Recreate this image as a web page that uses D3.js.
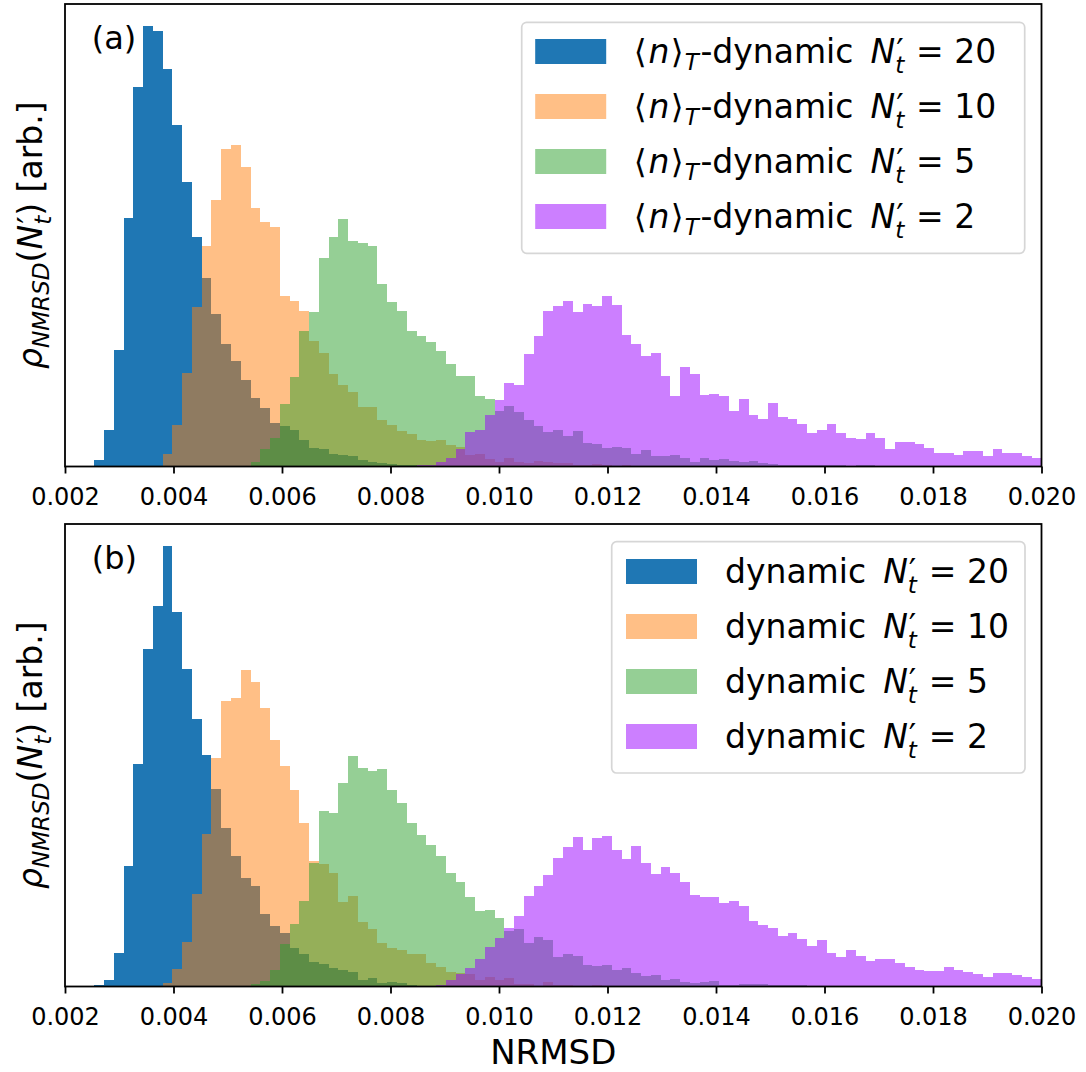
<!DOCTYPE html>
<html>
<head>
<meta charset="utf-8">
<script src="https://cdn.jsdelivr.net/npm/d3@7"></script>
<style>
  body { margin: 0; background: #fff; }
  svg { display: block; }
  text { font-family: "DejaVu Sans", sans-serif; white-space: pre; fill: #000; }
</style>
</head>
<body>
<svg id="chart" width="1086" height="1072"></svg>
<script>
// Shared histogram binning: 100 equal bins over NRMSD 0.002 .. 0.020
const binLo = 0.002, binHi = 0.020, nBins = 100;
const xTicks = [0.002, 0.004, 0.006, 0.008, 0.010, 0.012, 0.014, 0.016, 0.018, 0.020];
const xTickLabels = ["0.002", "0.004", "0.006", "0.008", "0.010", "0.012", "0.014", "0.016", "0.018", "0.020"];
const ntValues = ["20", "10", "5", "2"];
const seriesColors = ["#1f77b4", "#ff7f0e", "#2ca02c", "#9900ff"];
const seriesAlpha = [1, 0.5, 0.5, 0.5];

const zeros = n => Array(n).fill(0);

// Panel (a): <n>_T-dynamic, density per bin [arb.]
const avgDyn20 = [0, 0, 0, 6.5, 36.5, 116.5, 248.5, 379.5, 440.5, 435.5,
  397.5, 341.5, 284.5, 229.5, 188.5, 152.5, 122.5, 105.5, 86.5, 68.5,
  58.5, 43.5, 40.5, 36.5, 26.5, 18.5, 17.5, 12.5, 11.5, 10.5,
  6.5, 4.5, 3.5, 2.5, 1.5, 1.5, 1, 1, 0.5, 0.5];
const avgDyn10 = [...zeros(10),
  12.5, 41.5, 93.5, 159.5, 220.5, 266.5, 317.5, 321.5, 299.5, 258.5,
  244.5, 239.5, 170.5, 165.5, 155.5, 125.5, 113.5, 92.5, 81.5, 74.5,
  59.5, 59.5, 46.5, 41.5, 35.5, 32.5, 26.5, 25.5, 26.5, 21.5,
  19.5, 11.5, 12.5, 7.5, 4.5, 8.5, 4.5, 3.5, 5.5, 4.5,
  3.5, 3.5, 1.5, 1.5, 2.5, 1.5, 0.5, 1.5, 0.5, 0.5, 0.5];
const avgDyn5 = [...zeros(19), 4.5,
  17.5, 28.5, 62.5, 89.5, 135.5, 154.5, 208.5, 229.5, 247.5, 225.5,
  223.5, 220.5, 182.5, 164.5, 155.5, 135.5, 130.5, 124.5, 115.5, 102.5,
  90.5, 90.5, 70.5, 67.5, 55.5, 60.5, 54.5, 46.5, 40.5, 34.5,
  36.5, 30.5, 35.5, 23.5, 22.5, 18.5, 19.5, 18.5, 12.5, 16.5,
  10.5, 10.5, 11.5, 8.5, 4.5, 8.5, 6.5, 7.5, 5.5, 4.5,
  5.5, 3.5, 2.5, 1.5, 1.5, 1.5, 1.5, 1.5, 1.5, 1.5,
  0.5, 1.5, 1.5, 0.5, 0.5, 0.5];
const avgDyn2 = [...zeros(36), 1.5, 1.5, 4.5, 8.5,
  17.5, 34.5, 36.5, 51.5, 66.5, 83.5, 81.5, 112.5, 130.5, 155.5,
  160.5, 165.5, 154.5, 162.5, 160.5, 170.5, 161.5, 131.5, 122.5, 110.5,
  113.5, 90.5, 70.5, 99.5, 92.5, 71.5, 72.5, 70.5, 55.5, 67.5,
  51.5, 47.5, 63.5, 49.5, 47.5, 42.5, 33.5, 36.5, 42.5, 33.5,
  28.5, 27.5, 33.5, 28.5, 17.5, 24.5, 24.5, 22.5, 18.5, 13.5,
  13.5, 11.5, 15.5, 15.5, 10.5, 17.5, 13.5, 13.5, 10.5, 8.5];

// Panel (b): dynamic, density per bin [arb.]
const dyn20 = [0, 0, 0, 1.5, 6.5, 33.5, 120.5, 222.5, 337.5, 380.5,
  440.5, 374.5, 317.5, 267.5, 231.5, 197.5, 158.5, 130.5, 108.5, 100.5,
  72.5, 60.5, 53.5, 38.5, 32.5, 24.5, 22.5, 18.5, 16.5, 14.5,
  6.5, 8.5, 3.5, 4.5, 3.5, 2, 1, 1, 0.5];
const dyn10 = [...zeros(10),
  4, 17.5, 44.5, 92.5, 152.5, 228.5, 285.5, 288.5, 316.5, 304.5,
  278.5, 246.5, 220.5, 196.5, 163.5, 125.5, 122.5, 113.5, 84.5, 90.5,
  64.5, 57.5, 43.5, 38.5, 36.5, 32.5, 32.5, 23.5, 19.5, 14.5,
  13.5, 12.5, 6.5, 9.5, 6.5, 8.5, 2.5, 2.5, 0.5, 4.5,
  1.5, 1.5, 0.5, 0.5, 1.5, 0.5];
const dyn5 = [...zeros(19), 2.5,
  5.5, 16.5, 42.5, 62.5, 85.5, 123.5, 175.5, 173.5, 203.5, 230.5,
  218.5, 215.5, 217.5, 196.5, 183.5, 163.5, 151.5, 141.5, 130.5, 113.5,
  104.5, 89.5, 75.5, 76.5, 68.5, 55.5, 57.5, 43.5, 49.5, 46.5,
  29.5, 32.5, 30.5, 21.5, 20.5, 21.5, 16.5, 18.5, 13.5, 10.5,
  11.5, 6.5, 7.5, 4.5, 3.5, 4.5, 5.5, 1.5, 1.5, 2.5,
  2.5, 2.5, 1.5, 1.5, 1.5, 1.5, 0.5, 0.5];
const dyn2 = [...zeros(37), 0.5, 1.5, 6.5,
  12.5, 18.5, 27.5, 39.5, 48.5, 58.5, 70.5, 90.5, 100.5, 111.5,
  128.5, 139.5, 149.5, 136.5, 148.5, 150.5, 136.5, 127.5, 140.5, 123.5,
  112.5, 119.5, 113.5, 104.5, 91.5, 89.5, 89.5, 83.5, 85.5, 80.5,
  65.5, 61.5, 58.5, 50.5, 53.5, 47.5, 40.5, 46.5, 33.5, 29.5,
  36.5, 30.5, 25.5, 27.5, 27.5, 23.5, 19.5, 16.5, 15.5, 15.5,
  19.5, 16.5, 14.5, 12.5, 9.5, 13.5, 13.5, 11.5, 9.5, 7.5];

const svg = d3.select("#chart");
const edges = d3.range(nBins + 1).map(i => binLo + i * (binHi - binLo) / nBins);
const x = d3.scaleLinear().domain([binLo, binHi]).range([65, 1041.5]);

const FS_TICK = 24, FS_LABEL = 33, FS_LEG = 33, FS_TAG = 32;

function textWidth(str, fs, italic) {
  const t = svg.append("text").attr("font-size", fs).attr("font-style", italic ? "oblique" : null).text(str);
  const w = t.node().getComputedTextLength();
  t.remove();
  return w;
}

// N'_t written math-style: italic N, prime above, italic subscript t below;
// returns the horizontal advance still owed after the subscript
function primeSub(t, fs, lead) {
  const sub = 0.7 * fs;
  const pw = textWidth("\u2032", fs, false) + 1;
  const tw = textWidth("t", sub, true);
  t.append("tspan").attr("font-style", "oblique").attr("dx", lead).text("N");
  t.append("tspan").attr("font-size", fs).attr("dx", 1).text("\u2032");
  t.append("tspan").attr("font-style", "oblique").attr("font-size", sub)
    .attr("dx", -pw).attr("dy", 0.28 * fs).text("t");
  return Math.max(0, pw - tw);
}

// legend label: <n>_T-dynamic N'_t = value  (or without the <n>_T prefix)
function legendText(t, withAvg, nt, fs) {
  const sub = 0.7 * fs;
  if (withAvg) {
    t.append("tspan").text("\u27E8");
    t.append("tspan").attr("font-style", "oblique").attr("dx", 0.06 * fs).text("n");
    t.append("tspan").attr("dx", 0.04 * fs).text("\u27E9");
    t.append("tspan").attr("font-style", "oblique").attr("font-size", sub).attr("dx", 0.03 * fs).attr("dy", 0.19 * fs).text("T");
    t.append("tspan").attr("dx", 0.05 * fs).attr("dy", -0.19 * fs).text("-dynamic ");
  } else {
    t.append("tspan").text("dynamic ");
  }
  const owed = primeSub(t, fs, 0.2 * fs);
  t.append("tspan").attr("dx", owed + 0.36 * fs).attr("dy", -0.28 * fs).text("=");
  t.append("tspan").attr("dx", 0.32 * fs).text(nt);
}

const panels = [
  { tag: "(a)", top: 4, bottom: 466.5, series: [avgDyn20, avgDyn10, avgDyn5, avgDyn2], withAvg: true,
    legend: { x: 521.7, y: 22.3, w: 503, h: 231, row: 55, first: 29.2, px: 13.5, tx: 112 } },
  { tag: "(b)", top: 524, bottom: 986.5, series: [dyn20, dyn10, dyn5, dyn2], withAvg: false,
    legend: { x: 611.7, y: 541.7, w: 413.3, h: 231.3, row: 55, first: 29.8, px: 14.3, tx: 113.3 } }
];

panels.forEach(p => {
  const g = svg.append("g");
  const yMax = d3.max(p.series, s => d3.max(s)) * 1.05;
  const y = d3.scaleLinear().domain([0, yMax]).range([p.bottom, p.top]);

  // histogram bars, drawn in order so the translucent ones overlay
  p.series.forEach((vals, si) => {
    const bins = vals.map((v, i) => ({ x0: edges[i], x1: edges[i + 1], v })).filter(d => d.v > 0);
    g.append("g")
      .attr("fill", seriesColors[si])
      .attr("fill-opacity", seriesAlpha[si])
      .attr("shape-rendering", "crispEdges")
      .selectAll("rect").data(bins).join("rect")
      .attr("x", d => x(d.x0))
      .attr("width", d => x(d.x1) - x(d.x0))
      .attr("y", d => y(d.v))
      .attr("height", d => y(0) - y(d.v));
  });

  // x axis ticks and labels
  const ax = g.append("g").attr("transform", `translate(0,${p.bottom})`)
    .call(d3.axisBottom(x).tickValues(xTicks).tickFormat((d, i) => xTickLabels[i]).tickSize(7).tickPadding(0));
  ax.select(".domain").remove();
  ax.selectAll(".tick line").attr("stroke", "#000").attr("stroke-width", 1.8);
  ax.selectAll(".tick text").attr("font-size", FS_TICK).attr("font-family", "DejaVu Sans")
    .attr("dy", null).attr("y", 38.5).attr("fill", "#000");

  // frame
  g.append("rect").attr("x", x.range()[0]).attr("y", p.top)
    .attr("width", x.range()[1] - x.range()[0]).attr("height", p.bottom - p.top)
    .attr("fill", "none").attr("stroke", "#000").attr("stroke-width", 1.8);

  // panel tag
  g.append("text").attr("x", 91.7).attr("y", p.top + 44.8).attr("font-size", FS_TAG).text(p.tag);

  // y label
  const yl = g.append("text")
    .attr("transform", `translate(42,${(p.top + p.bottom) / 2}) rotate(-90)`)
    .attr("text-anchor", "middle").attr("font-size", FS_LABEL);
  const sub = 0.7 * FS_LABEL;
  yl.append("tspan").attr("font-style", "oblique").text("\u03C1");
  yl.append("tspan").attr("font-style", "oblique").attr("font-size", sub).attr("dy", 0.2 * FS_LABEL).text("NMRSD");
  yl.append("tspan").attr("dy", -0.2 * FS_LABEL).text("(");
  const owed = primeSub(yl, FS_LABEL, 0);
  yl.append("tspan").attr("dx", owed).attr("dy", -0.28 * FS_LABEL).text(") [arb.]");

  // legend
  const L = p.legend;
  const lg = g.append("g").attr("transform", `translate(${L.x},${L.y})`);
  lg.append("rect").attr("width", L.w).attr("height", L.h).attr("rx", 5)
    .attr("fill", "#fff").attr("fill-opacity", 0.8)
    .attr("stroke", "#ccc").attr("stroke-opacity", 0.8).attr("stroke-width", 1.7);
  ntValues.forEach((nt, i) => {
    const cy = L.first + i * L.row;
    lg.append("rect").attr("x", L.px).attr("y", cy - 12.5).attr("width", 71).attr("height", 25)
      .attr("fill", seriesColors[i]).attr("fill-opacity", seriesAlpha[i]);
    const t = lg.append("text").attr("x", L.tx).attr("y", cy + 11.8).attr("font-size", FS_LEG);
    legendText(t, p.withAvg, nt, FS_LEG);
  });
});

// shared x label
svg.append("text").attr("x", (x.range()[0] + x.range()[1]) / 2).attr("y", 1064)
  .attr("text-anchor", "middle").attr("font-size", 34).text("NRMSD");
</script>
</body>
</html>
